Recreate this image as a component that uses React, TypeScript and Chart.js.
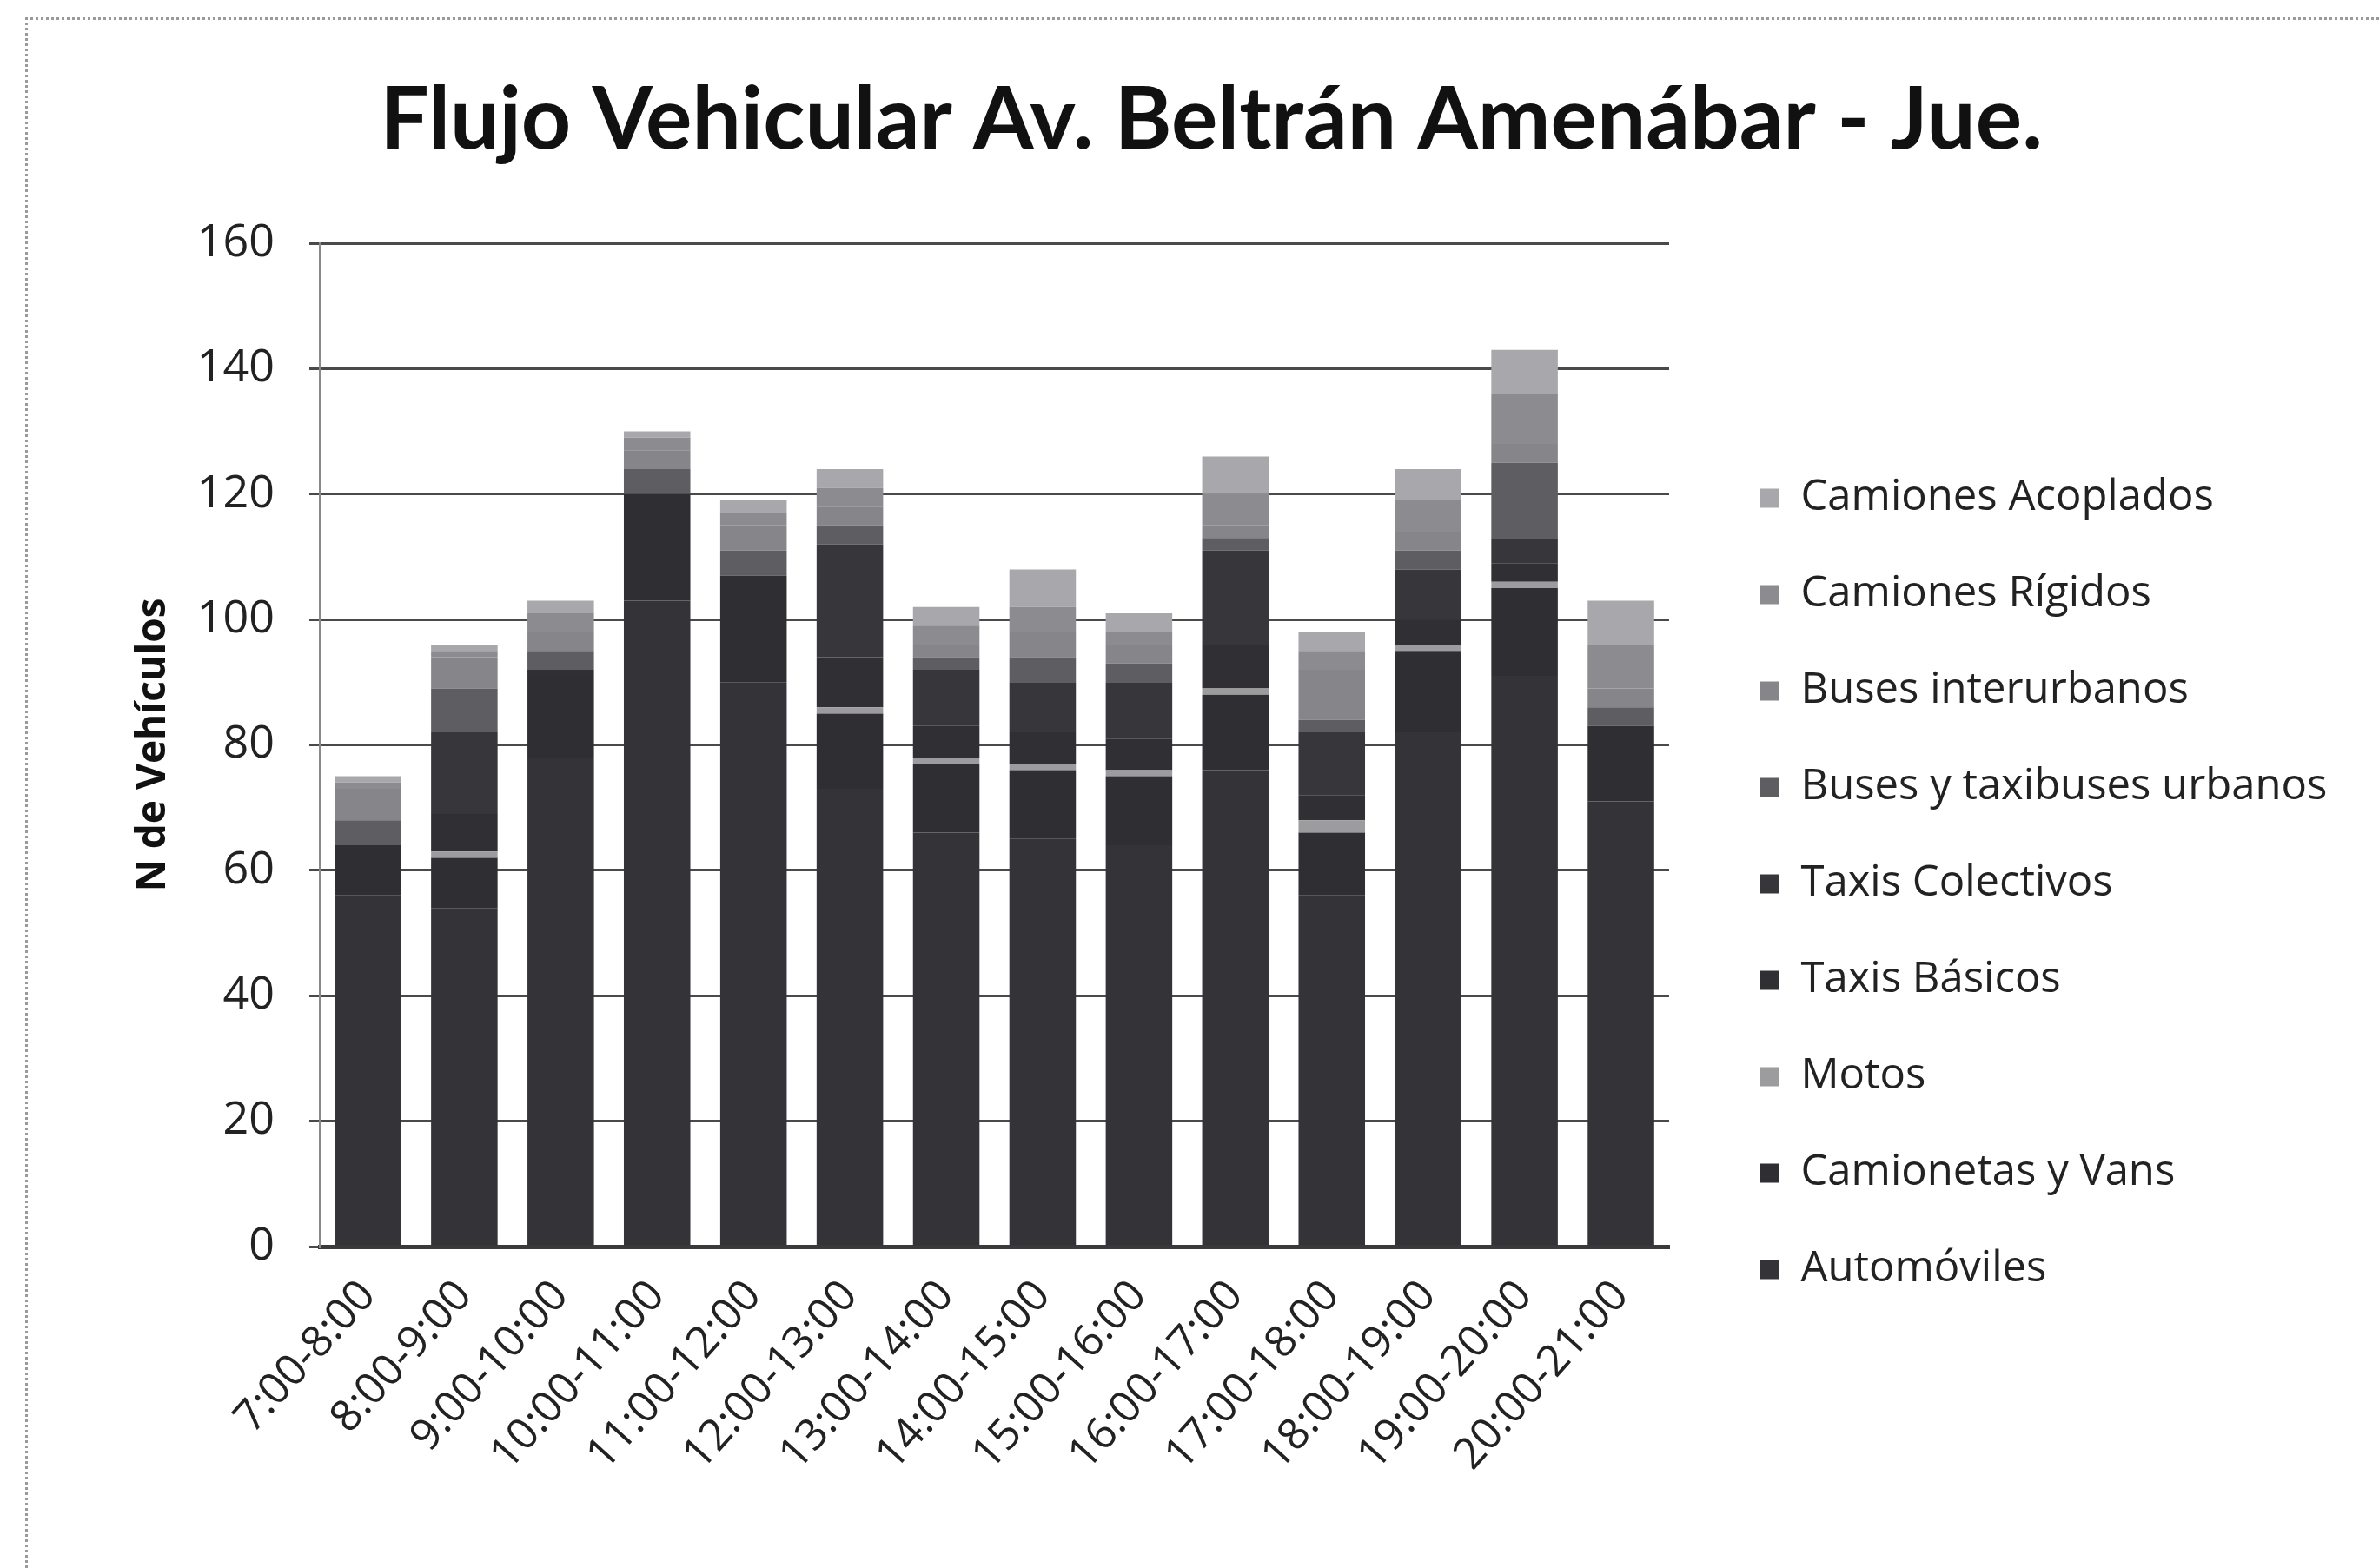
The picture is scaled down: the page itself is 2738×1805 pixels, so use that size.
import React, { useEffect, useRef } from 'react';
import { Chart, registerables } from 'chart.js';

Chart.register(...registerables);

const categories = [
  '7:00-8:00', '8:00-9:00', '9:00-10:00', '10:00-11:00', '11:00-12:00', '12:00-13:00', '13:00-14:00',
  '14:00-15:00', '15:00-16:00', '16:00-17:00', '17:00-18:00', '18:00-19:00', '19:00-20:00', '20:00-21:00',
];

const automoviles = [56, 54, 78, 103, 90, 73, 66, 65, 64, 76, 56, 82, 91, 71];
const camionetasVans = [8, 8, 13, 17, 17, 12, 11, 11, 11, 12, 10, 13, 14, 12];
const motos = [0, 1, 0, 0, 0, 1, 1, 1, 1, 1, 2, 1, 1, 0];
const taxisBasicos = [0, 6, 1, 0, 0, 8, 5, 5, 5, 7, 4, 4, 3, 0];
const taxisColectivos = [0, 13, 0, 0, 0, 18, 9, 8, 9, 15, 10, 8, 4, 0];
const busesUrbanos = [4, 7, 3, 4, 4, 3, 2, 4, 3, 2, 2, 3, 12, 3];
const busesInterurbanos = [5, 5, 3, 3, 4, 3, 2, 4, 3, 2, 8, 3, 3, 3];
const camionesRigidos = [1, 1, 3, 2, 2, 3, 3, 4, 2, 5, 3, 5, 8, 7];
const camionesAcoplados = [1, 1, 2, 1, 2, 3, 3, 6, 3, 6, 3, 5, 7, 7];

const yTicks = [0, 20, 40, 60, 80, 100, 120, 140, 160];

const seriesNames = [
  'Automóviles', 'Camionetas y Vans', 'Motos', 'Taxis Básicos', 'Taxis Colectivos',
  'Buses y taxibuses urbanos', 'Buses interurbanos', 'Camiones Rígidos', 'Camiones Acoplados',
];
const seriesValues = [
  automoviles, camionetasVans, motos, taxisBasicos, taxisColectivos,
  busesUrbanos, busesInterurbanos, camionesRigidos, camionesAcoplados,
];
const seriesColors = [
  '#343438', '#2f2f33', '#9c9c9e', '#303034', '#37373b',
  '#5e5e62', '#86868a', '#8c8c90', '#a8a8ac',
];

const W = 2738;
const H = 1805;
const LEGEND_FONT = 49;
const LEGEND_BOX = 22;
const LEGEND_PAD = 62;
const LEGEND_LEFT = 1964;
const FONT = "'Open Sans', sans-serif";

export default function App() {
  const canvasRef = useRef<HTMLCanvasElement | null>(null);

  useEffect(() => {
    const canvas = canvasRef.current;
    if (!canvas) return;

    const mctx = document.createElement('canvas').getContext('2d') as CanvasRenderingContext2D;
    mctx.font = `${LEGEND_FONT}px ${FONT}`;
    const textW = Math.max(...seriesNames.map((n) => mctx.measureText(n).width));
    const legendWidth = LEGEND_PAD + LEGEND_BOX + LEGEND_FONT / 2 + textW + 10;
    const rightPad = Math.max(0, W - LEGEND_LEFT - legendWidth);

    const chart = new Chart(canvas, {
      type: 'bar',
      data: {
        labels: categories,
        datasets: seriesNames.map((name, i) => ({
          label: name,
          data: seriesValues[i],
          backgroundColor: seriesColors[i],
          borderWidth: 0,
          barPercentage: 0.69,
          categoryPercentage: 1,
          stack: 's',
        })),
      },
      options: {
        responsive: false,
        devicePixelRatio: 1,
        animation: false,
        layout: { padding: { left: 100, right: rightPad, top: 0, bottom: 0 } },
        plugins: {
          title: {
            display: true,
            text: 'Flujo Vehicular Av. Beltrán Amenábar - Jue.',
            color: '#111',
            font: { family: "Lato, sans-serif", size: 100, weight: 'bold' },
            padding: { top: 79, bottom: 81 },
          },
          legend: {
            display: true,
            position: 'right',
            reverse: true,
            maxWidth: 1200,
            title: { display: true, text: ' ', font: { size: 10 }, padding: { top: 218, bottom: 0 } },
            labels: {
              color: '#222',
              font: { family: FONT, size: LEGEND_FONT },
              boxWidth: LEGEND_BOX,
              boxHeight: LEGEND_BOX,
              padding: LEGEND_PAD,
            },
          },
          tooltip: { enabled: false },
        },
        scales: {
          x: {
            stacked: true,
            grid: { display: false, drawTicks: false },
            border: { display: true, color: '#3a3a3a', width: 5 },
            ticks: {
              color: '#222',
              font: { family: FONT, size: 50 },
              minRotation: 48,
              maxRotation: 48,
              padding: 28,
            },
            afterFit: (scale: any) => {
              scale.height = 370;
            },
          },
          y: {
            stacked: true,
            min: 0,
            max: 160,
            afterBuildTicks: (scale: any) => {
              scale.ticks = yTicks.map((v) => ({ value: v }));
            },
            afterFit: (scale: any) => {
              scale.width = 268;
            },
            grid: { color: '#4a4a4a', lineWidth: 3, tickLength: 12 },
            border: { display: true, color: '#8a8a8a', width: 3 },
            ticks: {
              color: '#222',
              font: { family: FONT, size: 52 },
              padding: 40,
            },
            title: {
              display: true,
              text: 'N de Vehículos',
              color: '#111',
              font: { family: FONT, size: 46, weight: 'bold' },
              padding: { top: 49, bottom: 0 },
            },
          },
          yRight: {
            position: 'right',
            display: true,
            min: 0,
            max: 160,
            grid: { display: false },
            border: { display: false },
            ticks: { display: false },
            afterFit: (scale: any) => {
              scale.width = 43;
            },
          },
        },
      },
    });
    return () => chart.destroy();
  }, []);

  return (
    <div style={{ position: 'absolute', left: 0, top: 0, width: W, height: H, background: '#fff' }}>
      <canvas ref={canvasRef} width={W} height={H} style={{ display: 'block', width: W, height: H }} />
      <div
        style={{
          position: 'absolute',
          left: 29,
          top: 20,
          width: W - 29,
          height: H - 20,
          borderTop: '3px dotted #9a9a9a',
          borderLeft: '3px dotted #9a9a9a',
          boxSizing: 'border-box',
          pointerEvents: 'none',
        }}
      />
    </div>
  );
}
